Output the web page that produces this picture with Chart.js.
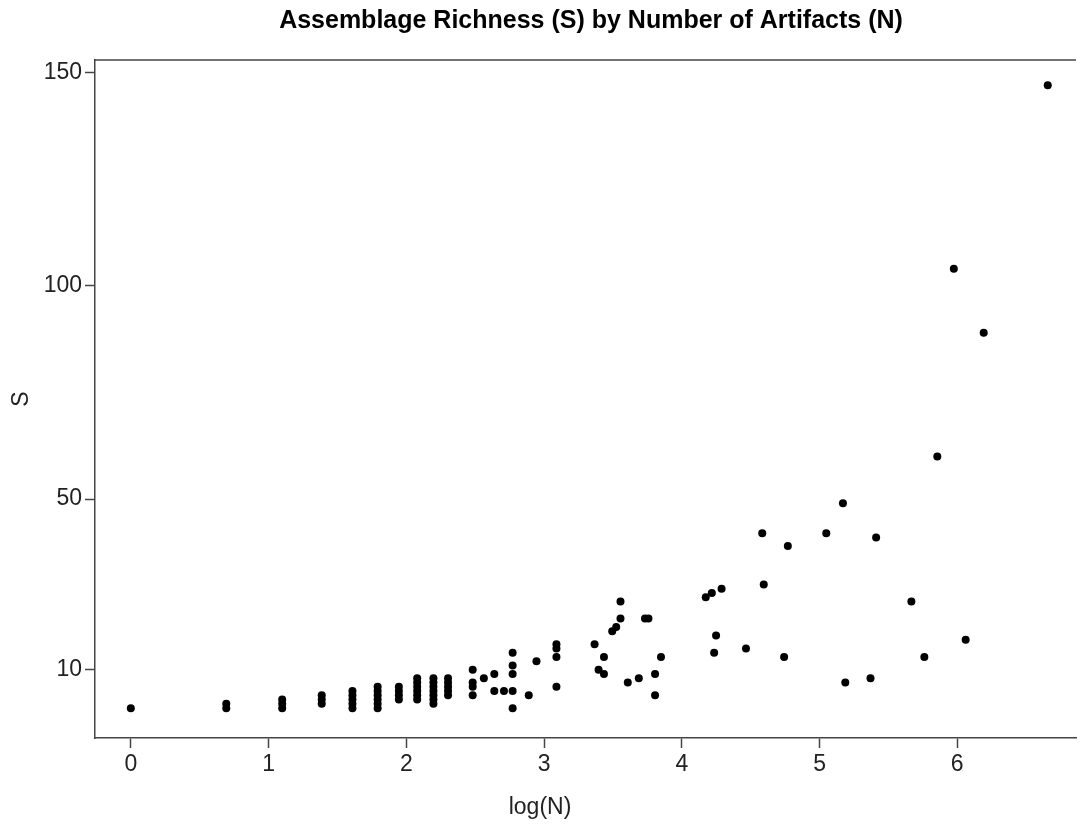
<!DOCTYPE html>
<html lang="en">
<head>
    <meta charset="UTF-8">
    <title>Assemblage Richness</title>
    <script src="https://cdn.jsdelivr.net/npm/chart.js@4.4.1/dist/chart.umd.min.js"></script>
    <style>
        body {
            margin: 0;
            padding: 0;
            background: #ffffff;
        }
        .wrap {
            width: 1080px;
            height: 826px;
        }
    </style>
</head>
<body>
    <div class="wrap">
        <canvas id="scatter" width="1080" height="826"></canvas>
    </div>

    <script>
        // values: x = log(N), y = S
        const logN = [
            0,
            0.693, 0.693,
            1.099, 1.099, 1.099,
            1.386, 1.386, 1.386,
            1.609, 1.609, 1.609, 1.609, 1.609,
            1.792, 1.792, 1.792, 1.792, 1.792, 1.792,
            1.946, 1.946, 1.946, 1.946,
            2.079, 2.079, 2.079, 2.079, 2.079, 2.079,
            2.197, 2.197, 2.197, 2.197, 2.197, 2.197, 2.197,
            2.303, 2.303, 2.303, 2.303, 2.303,
            2.482, 2.482, 2.482, 2.482,
            2.563,
            2.639, 2.639,
            2.709,
            2.772, 2.772, 2.772, 2.772, 2.772,
            2.889,
            2.945,
            3.090, 3.090, 3.090, 3.090,
            3.367, 3.396, 3.435, 3.435, 3.495, 3.524, 3.555, 3.555,
            3.608, 3.688, 3.733, 3.758, 3.806, 3.806, 3.849,
            4.174, 4.218, 4.235, 4.249, 4.289, 4.466, 4.584, 4.595,
            4.743, 4.770, 5.049, 5.170, 5.187, 5.370, 5.411,
            5.667, 5.761, 5.855, 5.975, 6.061, 6.192, 6.657
        ];
        const richness = [
            1,
            1, 2,
            1, 2, 3,
            2, 3, 4,
            1, 2, 3, 4, 5,
            1, 2, 3, 4, 5, 6,
            3, 4, 5, 6,
            3, 4, 5, 6, 7, 8,
            2, 3, 4, 5, 6, 7, 8,
            4, 5, 6, 7, 8,
            4, 6, 7, 10,
            8,
            5, 9,
            5,
            1, 5, 9, 11, 14,
            4,
            12,
            6, 13, 15, 16,
            16, 10, 9, 13, 19, 20, 22, 26,
            7, 8, 22, 22, 4, 9, 13,
            27, 28, 14, 18, 29, 15, 42, 30,
            13, 39, 42, 49, 7, 8, 41,
            26, 13, 60, 104, 17, 89, 147
        ];
        const xTicks = [0, 1, 2, 3, 4, 5, 6];
        const yTicks = [10, 50, 100, 150];

        const points = logN.map((x, i) => ({ x: x, y: richness[i] }));

        const axisColor = '#444444';
        const fontFamily = '"Liberation Sans", Arial, sans-serif';

        // title, axis labels and the top frame line
        const framePlugin = {
            id: 'frame',
            afterDraw(chart) {
                const ctx = chart.ctx;
                const area = chart.chartArea;
                ctx.save();
                ctx.strokeStyle = axisColor;
                ctx.lineWidth = 1.5;
                ctx.beginPath();
                ctx.moveTo(area.left, area.top);
                ctx.lineTo(area.right, area.top);
                ctx.stroke();

                ctx.fillStyle = '#000';
                ctx.textAlign = 'center';
                ctx.textBaseline = 'middle';
                ctx.font = 'bold 25px ' + fontFamily;
                ctx.fillText('Assemblage Richness (S) by Number of Artifacts (N)', 591, 21);

                ctx.font = '23px ' + fontFamily;
                ctx.fillStyle = '#222';
                ctx.fillText('log(N)', chart.width / 2, 808);

                ctx.translate(22, (area.top + area.bottom) / 2);
                ctx.rotate(-Math.PI / 2);
                ctx.fillText('S', 0, 0);
                ctx.restore();
            }
        };

        new Chart(document.getElementById('scatter'), {
            type: 'scatter',
            data: {
                datasets: [{
                    data: points,
                    backgroundColor: '#000000',
                    borderWidth: 0,
                    pointRadius: 4,
                    pointHoverRadius: 4
                }]
            },
            options: {
                responsive: false,
                animation: false,
                layout: {
                    padding: { top: 60, left: 0, right: 0, bottom: 0 }
                },
                plugins: {
                    legend: { display: false },
                    tooltip: { enabled: false }
                },
                scales: {
                    x: {
                        type: 'linear',
                        min: -0.26,
                        max: 6.862,
                        afterBuildTicks: (scale) => {
                            scale.ticks = xTicks.map(v => ({ value: v }));
                        },
                        afterFit: (scale) => { scale.height = 88; },
                        grid: {
                            drawOnChartArea: false,
                            drawTicks: true,
                            tickLength: 10,
                            tickWidth: 1.5,
                            color: axisColor
                        },
                        border: { display: true, color: axisColor, width: 1.5 },
                        ticks: {
                            color: '#222',
                            padding: 3,
                            font: { family: fontFamily, size: 23 },
                            maxRotation: 0
                        }
                    },
                    y: {
                        type: 'linear',
                        min: -6,
                        max: 152.9,
                        afterBuildTicks: (scale) => {
                            scale.ticks = yTicks.map(v => ({ value: v }));
                        },
                        afterFit: (scale) => { scale.width = 95; },
                        grid: {
                            drawOnChartArea: false,
                            drawTicks: true,
                            tickLength: 10,
                            tickWidth: 1.5,
                            color: axisColor
                        },
                        border: { display: true, color: axisColor, width: 1.5 },
                        ticks: {
                            color: '#222',
                            padding: 3,
                            font: { family: fontFamily, size: 23 }
                        }
                    }
                }
            },
            plugins: [framePlugin]
        });
    </script>
</body>
</html>
